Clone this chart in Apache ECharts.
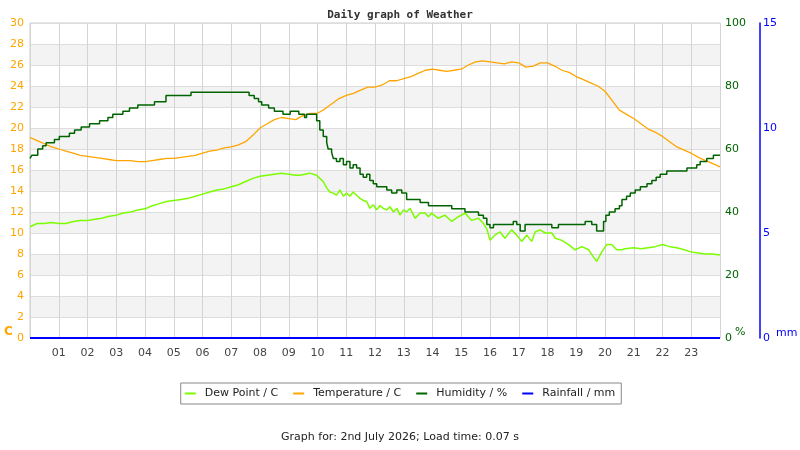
<!DOCTYPE html>
<html>
<head>
<meta charset="utf-8">
<script src="https://cdn.jsdelivr.net/npm/echarts@6/dist/echarts.min.js"></script>
<style>
  html, body { margin: 0; padding: 0; background: #fff; }
  #chart { width: 800px; height: 450px; }
</style>
</head>
<body>
<div id="chart"></div>
<script>
const hourTicks = ['', '01', '02', '03', '04', '05', '06', '07', '08', '09', '10', '11', '12',
  '13', '14', '15', '16', '17', '18', '19', '20', '21', '22', '23', '']

// temperature, C (every 15 min)
const tempHours = [
  0, 0.25, 0.5, 0.75, 1, 1.25, 1.5, 1.75, 2, 2.25, 2.5, 2.75,
  3, 3.25, 3.5, 3.75, 4, 4.25, 4.5, 4.75, 5, 5.25, 5.5, 5.75,
  6, 6.25, 6.5, 6.75, 7, 7.25, 7.5, 7.75, 8, 8.25, 8.5, 8.75,
  9, 9.25, 9.5, 9.75, 10, 10.25, 10.5, 10.75, 11, 11.25, 11.5, 11.75,
  12, 12.25, 12.5, 12.75, 13, 13.25, 13.5, 13.75, 14, 14.25, 14.5, 14.75,
  15, 15.25, 15.5, 15.75, 16, 16.25, 16.5, 16.75, 17, 17.25, 17.5, 17.75,
  18, 18.25, 18.5, 18.75, 19, 19.25, 19.5, 19.75, 20, 20.25, 20.5, 20.75,
  21, 21.25, 21.5, 21.75, 22, 22.25, 22.5, 22.75, 23, 23.25, 23.5, 23.75, 24
]
const temperature = [
  19.1, 18.8, 18.5, 18.2, 18.0, 17.8, 17.6, 17.4, 17.3, 17.2, 17.1, 17.0,
  16.9, 16.9, 16.9, 16.8, 16.8, 16.9, 17.0, 17.1, 17.1, 17.2, 17.3, 17.4,
  17.6, 17.8, 17.9, 18.1, 18.2, 18.4, 18.7, 19.3, 20.0, 20.4, 20.8, 21.0,
  20.9, 20.8, 21.2, 21.4, 21.4, 21.8, 22.3, 22.8, 23.1, 23.3, 23.6, 23.9,
  23.9, 24.1, 24.5, 24.5, 24.7, 24.9, 25.2, 25.5, 25.6, 25.5, 25.4, 25.5,
  25.6, 26.0, 26.3, 26.4, 26.3, 26.2, 26.1, 26.3, 26.2, 25.8, 25.9, 26.2,
  26.2, 25.9, 25.5, 25.3, 24.9, 24.6, 24.3, 24.0, 23.5, 22.6, 21.7, 21.3,
  20.9, 20.4, 19.9, 19.6, 19.2, 18.7, 18.2, 17.9, 17.6, 17.2, 16.9, 16.6, 16.3
]

// dew point, C
const dewHours = [
  0, 0.25, 0.5, 0.75, 1, 1.25, 1.5, 1.75, 2, 2.25, 2.5, 2.75,
  3, 3.25, 3.5, 3.75, 4, 4.25, 4.5, 4.75, 5, 5.25, 5.5, 5.75,
  6, 6.25, 6.5, 6.75, 7, 7.25, 7.5, 7.75, 8, 8.25, 8.5, 8.75,
  9, 9.25, 9.39, 9.73, 9.97, 10.08, 10.2, 10.32, 10.43, 10.55, 10.66, 10.78,
  10.9, 11.01, 11.13, 11.24, 11.36, 11.48, 11.59, 11.71, 11.82, 11.94, 12.06, 12.17,
  12.29, 12.41, 12.52, 12.64, 12.76, 12.87, 12.99, 13.1, 13.22, 13.4, 13.57, 13.74,
  13.86, 13.97, 14.2, 14.43, 14.67, 14.9, 15.13, 15.36, 15.6, 15.77, 15.89, 16.0,
  16.17, 16.35, 16.52, 16.75, 16.93, 17.1, 17.28, 17.45, 17.57, 17.74, 17.92, 18.15,
  18.27, 18.5, 18.73, 18.96, 19.2, 19.43, 19.6, 19.71, 19.89, 20.06, 20.23, 20.41,
  20.58, 20.7, 21, 21.25, 21.5, 21.75, 22, 22.25, 22.5, 22.75, 23, 23.25,
  23.5, 23.75, 24
]
const dewPoint = [
  10.6, 10.9, 10.9, 11.0, 10.9, 10.9, 11.1, 11.2, 11.2, 11.3, 11.4, 11.6,
  11.7, 11.9, 12.0, 12.2, 12.3, 12.6, 12.8, 13.0, 13.1, 13.2, 13.3, 13.5,
  13.7, 13.9, 14.1, 14.2, 14.4, 14.6, 14.9, 15.2, 15.4, 15.5, 15.6, 15.7,
  15.6, 15.5, 15.5, 15.7, 15.5, 15.2, 14.9, 14.3, 13.9, 13.8, 13.6, 14.1,
  13.5, 13.8, 13.5, 13.9, 13.6, 13.3, 13.1, 13.0, 12.35, 12.7, 12.2, 12.6,
  12.35, 12.2, 12.5, 12.0, 12.35, 11.7, 12.2, 12.0, 12.35, 11.4, 11.9, 11.9,
  11.55, 11.9, 11.4, 11.7, 11.1, 11.55, 11.9, 11.2, 11.4, 10.9, 10.4, 9.3,
  9.8, 10.1, 9.5, 10.3, 9.8, 9.2, 9.8, 9.2, 10.1, 10.3, 10.0, 10.0,
  9.5, 9.3, 8.9, 8.4, 8.7, 8.4, 7.7, 7.3, 8.2, 8.9, 8.9, 8.4,
  8.4, 8.5, 8.6, 8.5, 8.6, 8.7, 8.9, 8.7, 8.6, 8.4, 8.2, 8.1,
  8.0, 8.0, 7.9
]

// humidity, % (value from each time until the next)
const humHours = [
  0, 0.06, 0.27, 0.44, 0.56, 0.85, 1.02, 1.37, 1.55, 1.78, 2.07, 2.42,
  2.71, 2.88, 3.23, 3.46, 3.75, 4.33, 4.73, 5.6, 7.62, 7.8, 7.95, 8.06,
  8.3, 8.5, 8.8, 9.05, 9.35, 9.55, 9.62, 9.97, 10.08, 10.2, 10.32, 10.37,
  10.49, 10.55, 10.66, 10.78, 10.9, 11.01, 11.13, 11.24, 11.36, 11.48, 11.59, 11.71,
  11.82, 11.94, 12.06, 12.41, 12.58, 12.76, 12.93, 13.1, 13.57, 13.86, 14.43, 14.67,
  15.13, 15.6, 15.77, 15.89, 16.0, 16.12, 16.81, 16.93, 17.05, 17.22, 18.15, 18.38,
  19.31, 19.54, 19.71, 19.95, 20.03, 20.15, 20.35, 20.5, 20.59, 20.75, 20.88, 21.05,
  21.23, 21.46, 21.63, 21.78, 21.92, 22.15, 22.85, 23.19, 23.31, 23.54, 23.77, 24
]
const humidity = [
  57, 58, 60, 61, 62, 63, 64, 65, 66, 67, 68, 69,
  70, 71, 72, 73, 74, 75, 77, 78, 77, 76, 75, 74,
  73, 72, 71, 72, 71, 70, 71, 69, 66, 64, 62, 60,
  59, 57, 56, 57, 55, 56, 54, 55, 54, 52, 51, 52,
  50, 49, 48, 47, 46, 47, 46, 44, 43, 42, 42, 41,
  40, 39, 38, 36, 35, 36, 37, 36, 34, 36, 35, 36,
  37, 36, 34, 37, 39, 40, 41, 42, 44, 45, 46, 47,
  48, 49, 50, 51, 52, 53, 54, 55, 56, 57, 58, 58
]

// rainfall, mm (none all day)
const rainHours = [0, 24]
const rainfall = [0, 0]

const pairs = (xs, ys) => xs.map((x, i) => [x, ys[i]])

const FONT = 'DejaVu Sans'

const chart = echarts.init(document.getElementById('chart'))

chart.setOption({
  animation: false,
  textStyle: { fontFamily: FONT },
  title: {
    text: 'Daily graph of Weather',
    left: 'center',
    top: 5,
    textStyle: { fontFamily: 'DejaVu Sans Mono', fontSize: 11, fontWeight: 'bold', color: '#333' }
  },
  grid: {
    left: 30, right: 80, top: 23, bottom: 112,
    show: true, borderColor: '#cccccc', borderWidth: 1
  },
  legend: {
    left: 'center',
    top: 383,
    padding: [5, 6, 5, 4],
    itemGap: 15,
    itemWidth: 11,
    itemHeight: 2,
    icon: 'rect',
    borderColor: '#888',
    borderWidth: 1,
    borderRadius: 0,
    backgroundColor: '#fff',
    textStyle: { fontFamily: FONT, fontSize: 11, color: '#222', padding: [0, 0, 0, 4] },
    data: ['Dew Point / C', 'Temperature / C', 'Humidity / %', 'Rainfall / mm']
  },
  graphic: [
    { type: 'text', left: 4, top: 326, style: { text: 'C', fill: '#ffa500', font: 'bold 12px "DejaVu Sans"' } },
    { type: 'text', left: 735, top: 327, style: { text: '%', fill: '#006400', font: '11px "DejaVu Sans"' } },
    { type: 'text', left: 776, top: 328, style: { text: 'mm', fill: '#0000ff', font: '11px "DejaVu Sans"' } },
    {
      type: 'text', left: 'center', top: 432,
      style: { text: 'Graph for: 2nd July 2026; Load time: 0.07 s', fill: '#222', font: '11px "DejaVu Sans"' }
    }
  ],
  xAxis: {
    type: 'value',
    min: 0, max: 24, interval: 1,
    axisLine: { show: false },
    axisTick: { show: false },
    axisLabel: { color: '#444', fontSize: 11, margin: 10, formatter: v => hourTicks[v] },
    splitLine: { show: true, lineStyle: { color: '#d4d4d4', width: 1 } }
  },
  yAxis: [
    {
      type: 'value',
      min: 0, max: 30, interval: 2,
      axisLine: { show: false },
      axisTick: { show: false },
      axisLabel: { color: '#ffa500', fontSize: 11, margin: 6 },
      splitLine: { show: true, lineStyle: { color: '#dddddd', width: 1 } },
      splitArea: { show: true, areaStyle: { color: ['#ffffff', '#f3f3f3'] } }
    },
    {
      type: 'value',
      position: 'right',
      min: 0, max: 100, interval: 20,
      axisLine: { show: false },
      axisTick: { show: false },
      axisLabel: { color: '#006400', fontSize: 11, margin: 5 },
      splitLine: { show: false }
    },
    {
      type: 'value',
      position: 'right',
      offset: 40,
      min: 0, max: 15, interval: 5,
      axisLine: { show: true, lineStyle: { color: '#0000ff', width: 1.5 } },
      axisTick: { show: false },
      axisLabel: { color: '#0000ff', fontSize: 11, margin: 3 },
      splitLine: { show: false }
    }
  ],
  series: [
    {
      name: 'Dew Point / C',
      type: 'line',
      yAxisIndex: 0,
      data: pairs(dewHours, dewPoint),
      showSymbol: false,
      color: '#7cfc00',
      lineStyle: { width: 1.5 },
      z: 3
    },
    {
      name: 'Temperature / C',
      type: 'line',
      yAxisIndex: 0,
      data: pairs(tempHours, temperature),
      showSymbol: false,
      color: '#ffa500',
      lineStyle: { width: 1.3 },
      z: 3
    },
    {
      name: 'Humidity / %',
      type: 'line',
      yAxisIndex: 1,
      step: 'end',
      data: pairs(humHours, humidity),
      showSymbol: false,
      color: '#006400',
      lineStyle: { width: 1.5 },
      z: 4
    },
    {
      name: 'Rainfall / mm',
      type: 'line',
      yAxisIndex: 2,
      data: pairs(rainHours, rainfall),
      showSymbol: false,
      color: '#0000ff',
      lineStyle: { width: 2 },
      z: 5
    }
  ]
})
</script>
</body>
</html>
